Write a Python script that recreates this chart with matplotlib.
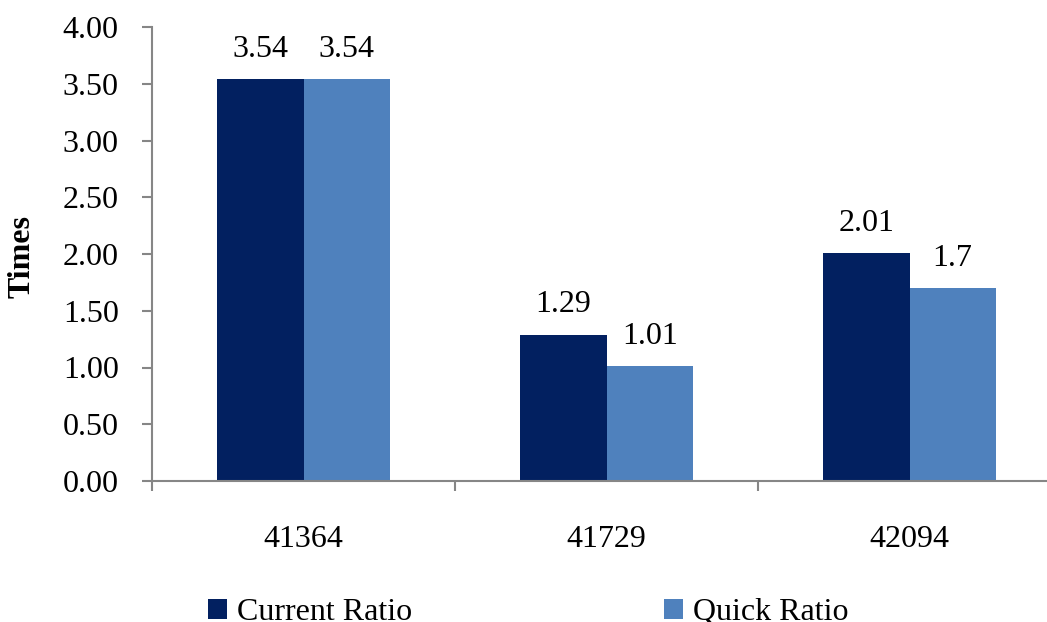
import matplotlib
matplotlib.use("Agg")
import matplotlib.pyplot as plt
import numpy as np

categories = ["41364", "41729", "42094"]
current_ratio = [3.54, 1.29, 2.01]
quick_ratio = [3.54, 1.01, 1.70]
current_labels = ["3.54", "1.29", "2.01"]
quick_labels = ["3.54", "1.01", "1.7"]
series_names = ["Current Ratio", "Quick Ratio"]
colors = ["#022060", "#4F81BD"]
y_ticks = [0.0, 0.5, 1.0, 1.5, 2.0, 2.5, 3.0, 3.5, 4.0]

plt.rcParams['font.family'] = ['Liberation Serif', 'DejaVu Serif']
FS = 23

W, H = 1047, 622
fig = plt.figure(figsize=(W / 100, H / 100), dpi=100)
ax = fig.add_axes([152 / W, 1 - 481 / H, 909 / W, (481 - 27) / H])

x = np.arange(len(categories))
bw = 0.285
b1 = ax.bar(x - bw / 2, current_ratio, bw, color=colors[0], label=series_names[0])
b2 = ax.bar(x + bw / 2, quick_ratio, bw, color=colors[1], label=series_names[1])

for bars, vals, labs in ((b1, current_ratio, current_labels), (b2, quick_ratio, quick_labels)):
    for rect, v, lab in zip(bars, vals, labs):
        ax.annotate(lab,
                    (rect.get_x() + rect.get_width() / 2, rect.get_height()),
                    xytext=(0, 16), textcoords="offset points",
                    ha="center", va="baseline", fontsize=FS)

ax.set_xlim(-0.5, len(categories) - 0.5)
ax.set_ylim(0, 4)
ax.set_yticks(y_ticks)
ax.set_yticklabels([f"{t:.2f}" for t in y_ticks], fontsize=FS)
ax.set_xticks(x)
ax.set_xticklabels(categories, fontsize=FS)
ax.set_xticks(np.arange(-0.5, len(categories) - 0.4, 1.0), minor=True)

gray = "#868686"
for s in ("top", "right"):
    ax.spines[s].set_visible(False)
for s in ("left", "bottom"):
    ax.spines[s].set_color(gray)
    ax.spines[s].set_linewidth(1.5)

ax.tick_params(axis="y", direction="out", length=7, width=1.5, color=gray, pad=17)
ax.tick_params(axis="x", which="major", length=0, pad=32)
ax.tick_params(axis="x", which="minor", direction="out", length=7, width=1.5, color=gray)

fig.text(22 / W, 1 - 256 / H, "Times", rotation=90, fontsize=FS, fontweight="bold",
         ha="center", va="center")

leg = fig.legend(handles=[b1, b2], labels=series_names, loc="lower left",
                 bbox_to_anchor=(208 / W, -5 / H), ncol=2, frameon=False,
                 fontsize=FS, handlelength=0.6, handleheight=0.6,
                 handletextpad=0.3, columnspacing=7.9, borderpad=0, borderaxespad=0)

fig.savefig("out.png", dpi=100)
